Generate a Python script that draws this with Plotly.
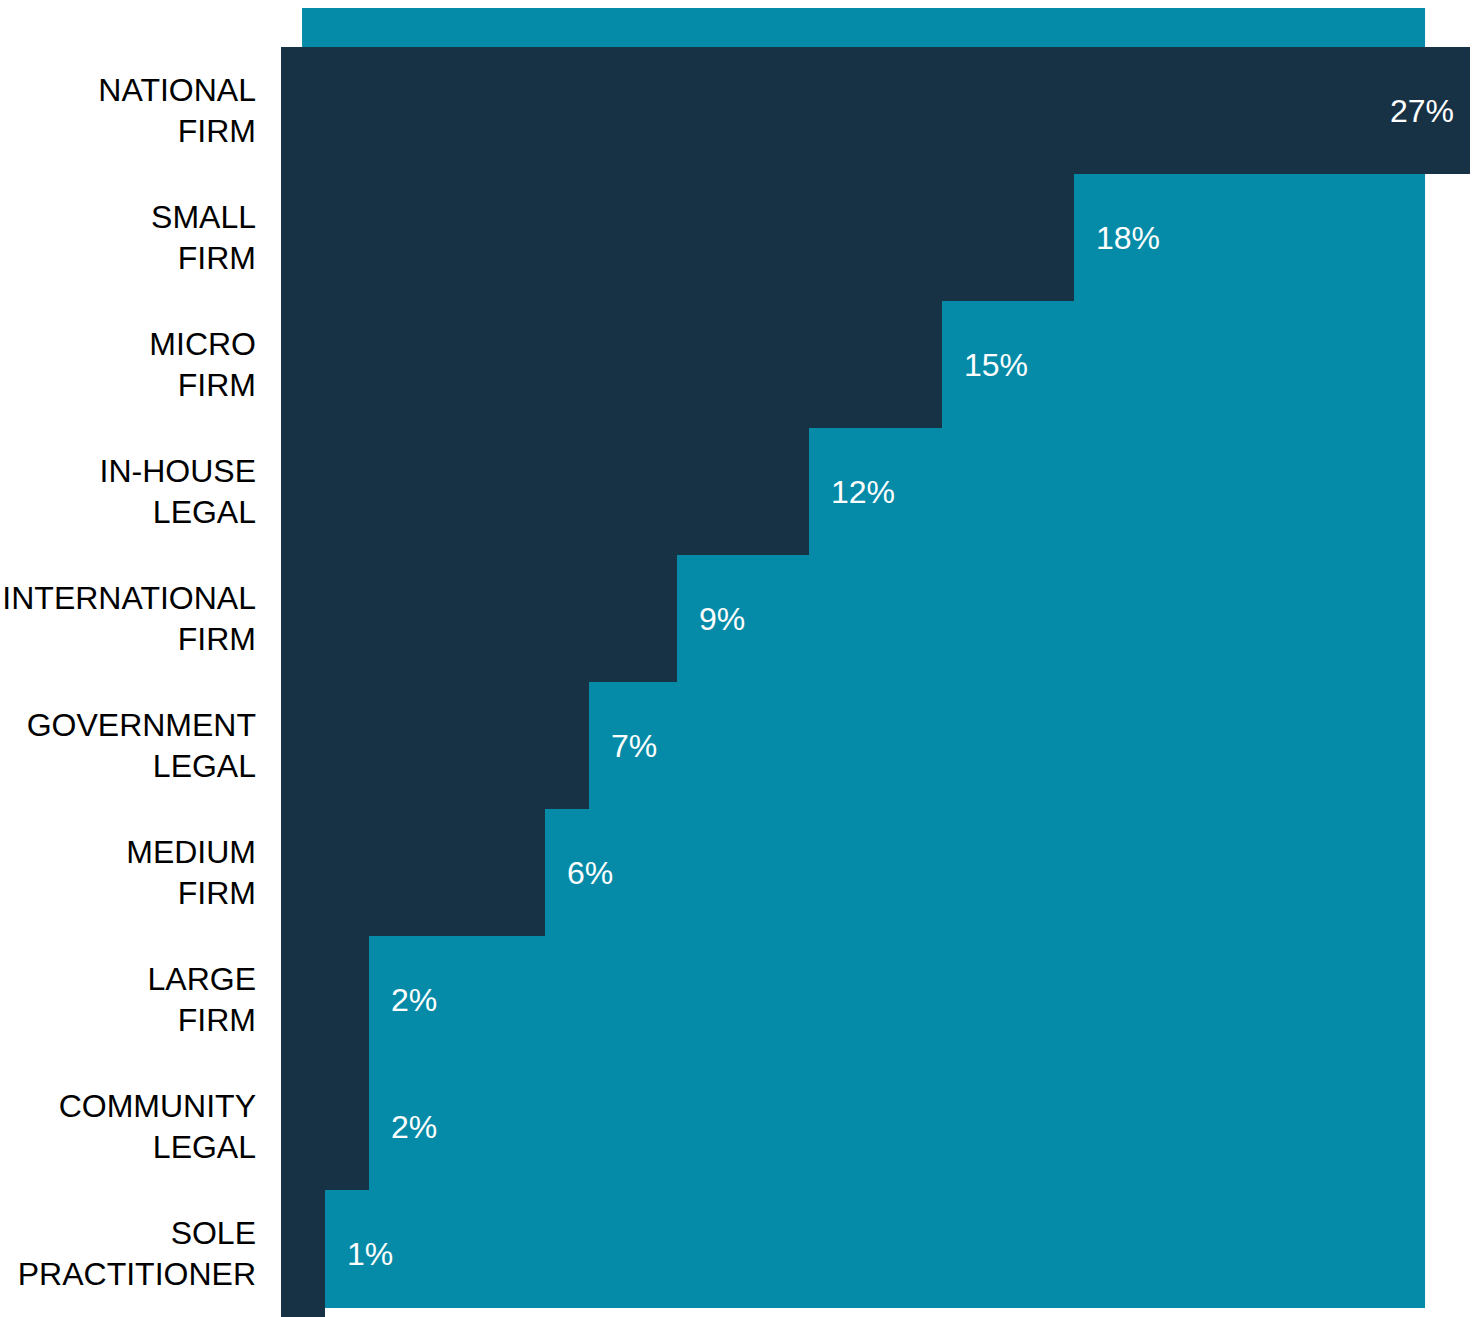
import plotly.graph_objects as go

# Share of respondents by type of employer
categories = [
    "NATIONAL<br>FIRM",
    "SMALL<br>FIRM",
    "MICRO<br>FIRM",
    "IN-HOUSE<br>LEGAL",
    "INTERNATIONAL<br>FIRM",
    "GOVERNMENT<br>LEGAL",
    "MEDIUM<br>FIRM",
    "LARGE<br>FIRM",
    "COMMUNITY<br>LEGAL",
    "SOLE<br>PRACTITIONER",
]
shares = [27, 18, 15, 12, 9, 7, 6, 2, 2, 1]
share_labels = [f"{v}%" for v in shares]

DARK = "#173245"
TEAL = "#058ba8"
FONT = "Liberation Sans, Arial, sans-serif"

fig = go.Figure(
    go.Bar(
        x=shares,
        y=categories,
        orientation="h",
        marker=dict(color=DARK, line=dict(width=0)),
        hoverinfo="skip",
    )
)

# Teal panel sitting behind the stepped bars
fig.add_shape(
    type="rect",
    xref="paper", yref="paper",
    x0=0.0177, x1=0.9622, y0=0.0071, y1=1.0307,
    fillcolor=TEAL, line=dict(width=0), layer="below",
)

# Percentage labels: the widest bar carries its label inside, the rest sit just past the bar end
for cat, v, lab in zip(categories, shares, share_labels):
    inside = v == max(shares)
    fig.add_annotation(
        x=v, y=cat, text=lab, showarrow=False,
        xanchor="right" if inside else "left",
        xshift=-14 if inside else 20,
        font=dict(family=FONT, size=32, color="white"),
    )

fig.update_layout(
    width=1477, height=1317,
    margin=dict(l=281, r=7, t=47, b=0),
    paper_bgcolor="white", plot_bgcolor="rgba(0,0,0,0)",
    bargap=0, showlegend=False,
    font=dict(family=FONT, size=32, color="black"),
)
fig.update_xaxes(range=[0, 27], visible=False, fixedrange=True)
fig.update_yaxes(
    autorange="reversed", showgrid=False, zeroline=False, showline=False,
    ticks="", ticklabelstandoff=24,
    tickfont=dict(family=FONT, size=32, color="black"),
)

fig.write_html("out.html")
